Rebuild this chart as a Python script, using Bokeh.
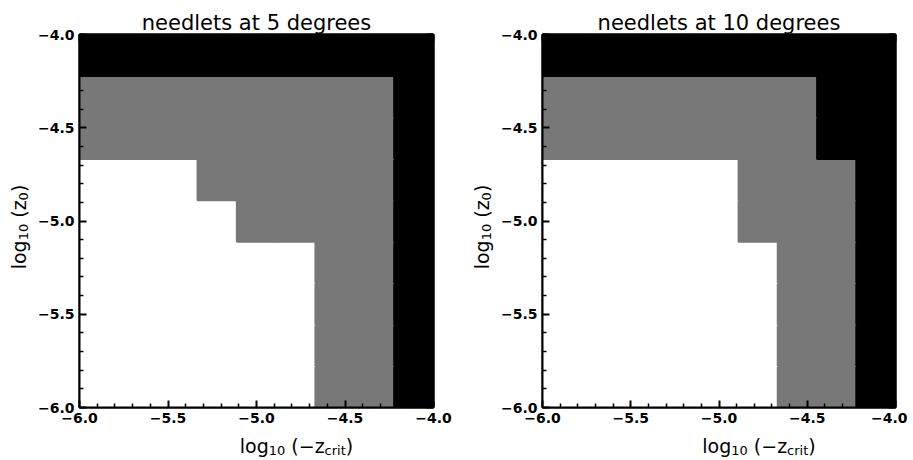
import math
from bokeh.plotting import figure
from bokeh.layouts import row, column
from bokeh.models import FixedTicker, LinearAxis, Label, ColumnDataSource
from bokeh.embed import file_html
from bokeh.resources import INLINE

# ---------------- data ----------------
# cell centres of the parameter grid
log_zcrit = [-5.889, -5.667, -5.444, -5.222, -5.000, -4.778, -4.556, -4.333, -4.111]
log_z0 = [-5.889, -5.667, -5.444, -5.222, -5.000, -4.778, -4.556, -4.333, -4.111]
cell_size = 0.2222

# 0 = white, 1 = grey, 2 = black ; rows from log10(z0) = -5.889 (bottom) to -4.111 (top)
needlets_5deg = [
    [0, 0, 0, 0, 0, 0, 1, 1, 2],
    [0, 0, 0, 0, 0, 0, 1, 1, 2],
    [0, 0, 0, 0, 0, 0, 1, 1, 2],
    [0, 0, 0, 0, 0, 0, 1, 1, 2],
    [0, 0, 0, 0, 1, 1, 1, 1, 2],
    [0, 0, 0, 1, 1, 1, 1, 1, 2],
    [1, 1, 1, 1, 1, 1, 1, 1, 2],
    [1, 1, 1, 1, 1, 1, 1, 1, 2],
    [2, 2, 2, 2, 2, 2, 2, 2, 2],
]
needlets_10deg = [
    [0, 0, 0, 0, 0, 0, 1, 1, 2],
    [0, 0, 0, 0, 0, 0, 1, 1, 2],
    [0, 0, 0, 0, 0, 0, 1, 1, 2],
    [0, 0, 0, 0, 0, 0, 1, 1, 2],
    [0, 0, 0, 0, 0, 1, 1, 1, 2],
    [0, 0, 0, 0, 0, 1, 1, 1, 2],
    [1, 1, 1, 1, 1, 1, 1, 2, 2],
    [1, 1, 1, 1, 1, 1, 1, 2, 2],
    [2, 2, 2, 2, 2, 2, 2, 2, 2],
]
titles = ["needlets at 5 degrees", "needlets at 10 degrees"]
tick_values = [-6.0, -5.5, -5.0, -4.5, -4.0]
tick_labels = ["\u22126.0", "\u22125.5", "\u22125.0", "\u22124.5", "\u22124.0"]
minor_tick_values = [-5.9, -5.8, -5.7, -5.6, -5.4, -5.3, -5.2, -5.1,
                     -4.9, -4.8, -4.7, -4.6, -4.4, -4.3, -4.2, -4.1]
level_colors = ["#ffffff", "#787878", "#000000"]

FONT = "DejaVu Sans"
# DejaVu Sans advance widths (units per em = 2048)
ADV = {"l": 569, "o": 1253, "g": 1300, " ": 651, "(": 799, ")": 799, "\u2212": 1716,
       "z": 1075, "1": 1303, "0": 1303, "c": 1126, "r": 842, "i": 569, "t": 803}


def text_width(s, size):
    return sum(ADV.get(ch, 1200) for ch in s) / 2048.0 * size


MAIN, SUB, SHIFT = 19, 13, -5
x_label_pieces = [("log", MAIN, 0), ("10", SUB, SHIFT), (" (\u2212z", MAIN, 0), ("crit", SUB, SHIFT), (")", MAIN, 0)]
y_label_pieces = [("log", MAIN, 0), ("10", SUB, SHIFT), (" (z", MAIN, 0), ("0", SUB, SHIFT), (")", MAIN, 0)]

BORDER_L, BORDER_T, BORDER_B = 44, 34, 24
FRAME_H = 373
FIG_H = BORDER_T + FRAME_H + BORDER_B
YLAB_W = 34
XLAB_H = 29


def blank_fig(w, h):
    f = figure(width=w, height=h, min_border=0, x_range=(0, 1), y_range=(0, 1),
               output_backend="svg", toolbar_location=None,
               x_axis_location=None, y_axis_location=None)
    f.grid.visible = False
    f.outline_line_color = None
    f.background_fill_color = "white"
    f.border_fill_color = "white"
    return f


def place_pieces(fig, pieces, start, baseline, vertical):
    pos = start
    for s, sz, shift in pieces:
        if s.startswith(" "):
            pos += text_width(" ", sz) * (len(s) - len(s.lstrip(" ")))
            s = s.lstrip(" ")
        if vertical:
            lab = Label(x=baseline - shift, y=pos, angle=math.pi / 2)
        else:
            lab = Label(x=pos, y=baseline + shift)
        lab.update(x_units="screen", y_units="screen", text=s, text_align="left",
                   text_baseline="alphabetic", text_font=FONT,
                   text_font_size=f"{sz}px", text_color="black")
        fig.add_layout(lab)
        pos += text_width(s, sz)


def make_panel(grid, title, frame_w, border_right):
    p = figure(frame_width=frame_w, frame_height=FRAME_H, x_range=(-6, -4), y_range=(-6, -4),
               min_border_left=BORDER_L, min_border_right=border_right, min_border_top=BORDER_T,
               min_border_bottom=BORDER_B, output_backend="svg", toolbar_location=None,
               x_axis_location=None, y_axis_location=None,
               background_fill_color="white", border_fill_color="white")
    p.grid.visible = False
    p.title.text = title
    p.title.align = "center"
    p.title.text_font = FONT
    p.title.text_font_size = "21px"
    p.title.text_font_style = "normal"
    p.title.text_color = "black"
    p.title.standoff = 0

    xs, ys, cs = [], [], []
    for i, rowvals in enumerate(grid):
        for j, v in enumerate(rowvals):
            xs.append(log_zcrit[j])
            ys.append(log_z0[i])
            cs.append(level_colors[v])
    src = ColumnDataSource(dict(x=xs, y=ys, c=cs))
    p.rect("x", "y", width=cell_size, height=cell_size, source=src,
           fill_color="c", line_color="c", line_width=2)

    for loc in ["below", "left", "above", "right"]:
        labelled = loc in ("below", "left")
        overrides = {v: (t if labelled else "") for v, t in zip(tick_values, tick_labels)}
        ax = LinearAxis(ticker=FixedTicker(ticks=tick_values, minor_ticks=minor_tick_values),
                        major_label_overrides=overrides,
                        axis_line_color="black", axis_line_width=2,
                        major_tick_line_color="black", major_tick_line_width=2,
                        minor_tick_line_color="black", minor_tick_line_width=1.5,
                        major_tick_in=7, major_tick_out=0, minor_tick_in=4, minor_tick_out=0,
                        major_label_text_font=FONT, major_label_text_font_style="bold",
                        major_label_text_font_size="14px" if labelled else "0px",
                        major_label_text_color="black",
                        major_label_standoff=5 if labelled else 0)
        p.add_layout(ax, loc)
    p.outline_line_color = "black"
    p.outline_line_width = 2

    fig_w = BORDER_L + frame_w + border_right
    # x axis label (with subscripts) in a strip below the panel
    xl = blank_fig(fig_w, XLAB_H)
    total = sum(text_width(s, sz) for s, sz, _ in x_label_pieces)
    place_pieces(xl, x_label_pieces, BORDER_L + frame_w / 2.0 - 4 - total / 2.0, 15, False)

    # y axis label (rotated, with subscripts) in a strip left of the panel
    yl = blank_fig(YLAB_W, FIG_H)
    total = sum(text_width(s, sz) for s, sz, _ in y_label_pieces)
    centre = BORDER_B + FRAME_H / 2.0 - 6
    place_pieces(yl, y_label_pieces, centre - total / 2.0, 18, True)
    return row(yl, column(p, xl))


panel1 = make_panel(needlets_5deg, titles[0], 354, 30)
panel2 = make_panel(needlets_10deg, titles[1], 353, 12)
layout = row(panel1, panel2)

open("out.html", "w").write(file_html(layout, INLINE))
